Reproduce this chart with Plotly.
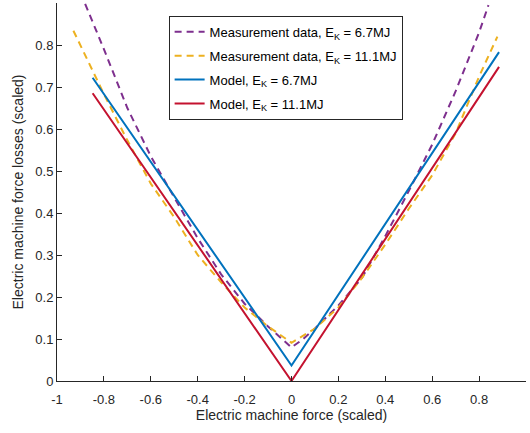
import plotly.graph_objects as go

# Measurement data, E_K = 6.7MJ
meas67_x = [-0.88, -0.8, -0.7, -0.6, -0.5, -0.4, -0.3, -0.2, -0.1, -0.05, 0.0, 0.05, 0.1, 0.2, 0.3, 0.4, 0.5, 0.6, 0.7, 0.8, 0.84]
meas67_y = [0.898, 0.79, 0.65, 0.535, 0.437, 0.34, 0.254, 0.184, 0.13, 0.105, 0.08, 0.10, 0.125, 0.18, 0.245, 0.345, 0.452, 0.563, 0.69, 0.83, 0.895]

# Measurement data, E_K = 11.1MJ
meas111_x = [-0.93, -0.8, -0.7, -0.6, -0.5, -0.4, -0.3, -0.2, -0.1, 0.0, 0.1, 0.2, 0.3, 0.4, 0.5, 0.6, 0.7, 0.8, 0.878]
meas111_y = [0.834, 0.683, 0.573, 0.47, 0.39, 0.30, 0.235, 0.175, 0.13, 0.091, 0.125, 0.175, 0.245, 0.325, 0.41, 0.49, 0.59, 0.725, 0.82]

# Model lines
model_x = [-0.848, 0.0, 0.885]
model67_y = [0.722, 0.037, 0.783]
model111_y = [0.685, 0.0, 0.748]

x_ticks = [-1, -0.8, -0.6, -0.4, -0.2, 0, 0.2, 0.4, 0.6, 0.8]
y_ticks = [0, 0.1, 0.2, 0.3, 0.4, 0.5, 0.6, 0.7, 0.8]

fig = go.Figure()
fig.add_trace(go.Scatter(x=meas67_x, y=meas67_y, mode="lines", line=dict(color="#7E2F8E", width=2, dash="7px,5px"),
                         name="Measurement data, E<sub>K</sub> = 6.7MJ", legendgroup="a"))
fig.add_trace(go.Scatter(x=meas111_x, y=meas111_y, mode="lines", line=dict(color="#EDB120", width=2, dash="7px,5px"),
                         name="Measurement data, E<sub>K</sub> = 11.1MJ", legendgroup="b"))
fig.add_trace(go.Scatter(x=model_x, y=model67_y, mode="lines", line=dict(color="#0072BD", width=2),
                         name="Model, E<sub>K</sub> = 6.7MJ", legendgroup="c"))
fig.add_trace(go.Scatter(x=model_x, y=model111_y, mode="lines", line=dict(color="#C4122F", width=2),
                         name="Model, E<sub>K</sub> = 11.1MJ", legendgroup="d"))

axis_common = dict(showgrid=False, zeroline=False, showline=True, linecolor="#262626", linewidth=1,
                   ticks="inside", ticklen=5, tickcolor="#262626",
                   tickfont=dict(family="Liberation Sans, Arial", size=13, color="#262626"))

fig.update_layout(
    width=530, height=433,
    margin=dict(l=57, r=4, t=3, b=52),
    plot_bgcolor="white", paper_bgcolor="white",
    font=dict(family="Liberation Sans, Arial", color="#262626"),
    xaxis=dict(range=[-1, 1], tickvals=x_ticks, ticktext=[str(v) for v in x_ticks],
               ticklabelstandoff=6,
               title=dict(text="Electric machine force (scaled)", font=dict(size=14, color="#262626"), standoff=2),
               **axis_common),
    yaxis=dict(range=[0, 0.9], tickvals=y_ticks, ticktext=[("0" if v == 0 else str(v)) for v in y_ticks],
               title=dict(text="Electric machine force losses (scaled)", font=dict(size=14, color="#262626"), standoff=8),
               **axis_common),
    legend=dict(x=0.238, y=0.966, xanchor="left", yanchor="top",
                bordercolor="#262626", borderwidth=1, bgcolor="white", tracegroupgap=4,
                font=dict(family="Liberation Sans, Arial", size=13, color="#000000")),
)

fig.write_html("out.html")
